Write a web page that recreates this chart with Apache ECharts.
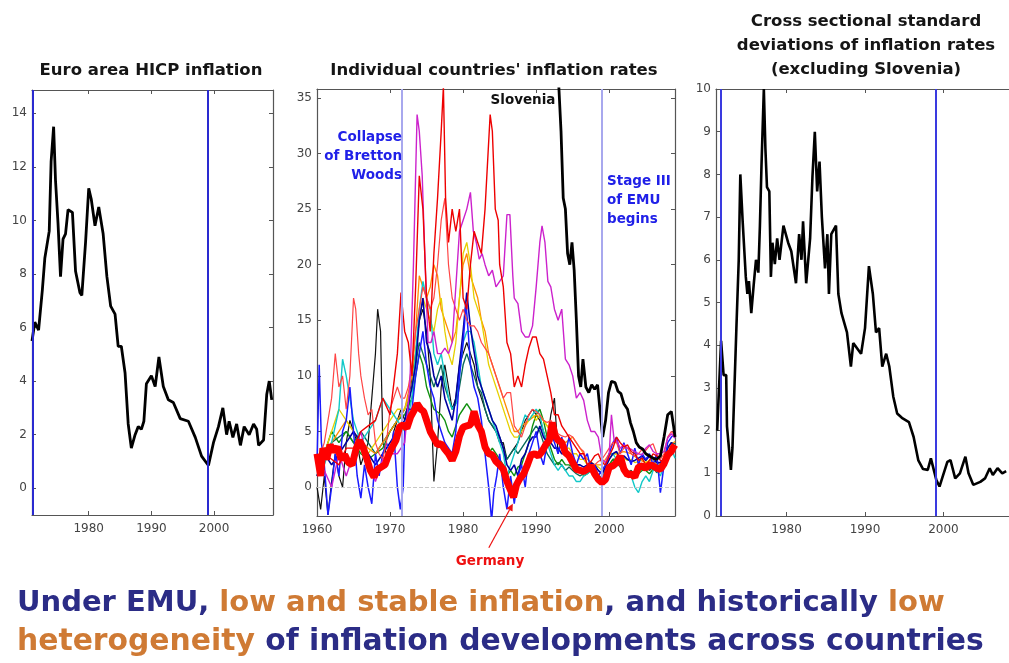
<!DOCTYPE html>
<html><head><meta charset="utf-8">
<script src="https://cdn.jsdelivr.net/npm/echarts@6/dist/echarts.min.js"></script>
<style>html,body{margin:0;padding:0;background:#fff}#c{width:1009px;height:663px}</style>
</head><body><div id="c"></div>
<script>
// ---------- DATA ----------
const xTicksLeft = [1980, 1990, 2000];
const xTicksMid = [1960, 1970, 1980, 1990, 2000];
const xTicksRight = [1980, 1990, 2000];
const yTicksLeft = [0, 2, 4, 6, 8, 10, 12, 14];
const yTicksMid = [0, 5, 10, 15, 20, 25, 30, 35];
const yTicksRight = [0, 1, 2, 3, 4, 5, 6, 7, 8, 9, 10];
const eventYears = [1971.6, 1999.0];

const euroArea = [[1970.95,5.5],[1971.4,6.2],[1972.0,5.9],[1972.6,7.4],[1973.0,8.6],[1973.7,9.6],[1974.0,12.2],[1974.4,13.5],[1974.7,11.5],[1975.1,9.9],[1975.5,7.9],[1975.9,9.3],[1976.3,9.5],[1976.7,10.4],[1977.4,10.3],[1977.9,8.1],[1978.6,7.3],[1978.9,7.2],[1979.5,9.2],[1980.0,11.2],[1980.4,10.8],[1981.0,9.8],[1981.6,10.5],[1982.3,9.5],[1982.9,7.9],[1983.5,6.8],[1984.2,6.5],[1984.7,5.3],[1985.2,5.3],[1985.8,4.3],[1986.3,2.4],[1986.8,1.5],[1987.4,2.0],[1987.9,2.3],[1988.4,2.2],[1988.8,2.5],[1989.2,3.9],[1990.0,4.2],[1990.6,3.8],[1991.2,4.9],[1991.9,3.8],[1992.7,3.3],[1993.5,3.2],[1994.6,2.6],[1995.9,2.5],[1997.0,1.9],[1998.0,1.2],[1999.1,0.85],[1999.9,1.7],[2000.7,2.3],[2001.4,3.0],[2002.0,2.0],[2002.4,2.5],[2003.0,1.9],[2003.6,2.4],[2004.2,1.6],[2004.8,2.3],[2005.6,2.0],[2006.3,2.4],[2006.8,2.2],[2007.1,1.6],[2007.9,1.8],[2008.4,3.5],[2008.8,4.0],[2009.2,3.3]];

const germany = [[1960,3.0],[1960.5,1.0],[1960.8,3.5],[1961.3,2.5],[1961.8,3.8],[1962.3,3.2],[1962.8,3.6],[1963.3,2.5],[1963.8,2.9],[1964.3,2.2],[1964.8,2.0],[1965.3,3.3],[1965.8,4.2],[1966.3,3.6],[1966.8,2.6],[1967.3,1.5],[1967.8,0.9],[1968.3,1.6],[1968.8,1.8],[1969.3,2.0],[1969.8,2.9],[1970.3,3.6],[1970.8,4.2],[1971.3,5.4],[1971.8,5.6],[1972.3,5.3],[1972.8,6.3],[1973.3,6.9],[1973.7,7.5],[1974.2,7.0],[1974.6,6.8],[1975.0,6.0],[1975.5,5.0],[1976.0,4.4],[1976.5,3.8],[1977.0,3.9],[1977.5,3.4],[1978.0,3.0],[1978.5,2.4],[1979.0,3.2],[1979.5,4.6],[1980.0,5.4],[1980.5,5.5],[1981.0,5.6],[1981.5,6.8],[1982.0,5.6],[1982.5,5.0],[1983.0,3.6],[1983.5,3.0],[1984.0,2.9],[1984.5,2.3],[1985.0,2.0],[1985.5,1.6],[1986.0,0.5],[1986.5,-0.3],[1986.9,-0.9],[1987.3,0.2],[1987.8,0.8],[1988.3,1.2],[1988.8,2.0],[1989.3,2.9],[1989.8,3.0],[1990.3,2.8],[1990.8,3.2],[1991.3,3.8],[1991.8,4.2],[1992.2,5.8],[1992.6,4.6],[1993.0,4.2],[1993.5,4.0],[1994.0,3.1],[1994.5,2.8],[1995.0,2.2],[1995.5,1.6],[1996.0,1.5],[1996.5,1.4],[1997.0,1.6],[1997.5,1.9],[1998.0,1.2],[1998.5,0.7],[1999.0,0.4],[1999.5,0.7],[2000.0,1.8],[2000.5,1.9],[2001.0,2.2],[2001.5,2.8],[2002.0,1.6],[2002.5,1.1],[2003.0,1.2],[2003.5,0.9],[2004.0,1.8],[2004.5,1.9],[2005.0,1.7],[2005.5,2.0],[2006.0,1.9],[2006.5,1.7],[2007.0,1.6],[2007.5,2.1],[2008.0,2.9],[2008.5,3.2],[2008.8,3.6],[2009.0,3.8]];

const portugal = [[1960,2],[1961,3],[1962,2.5],[1963,2],[1964,3.5],[1965,3.5],[1966,5],[1967,5.5],[1968,6],[1969,8],[1970,6.5],[1971,12],[1971.5,17.5],[1972,14],[1972.5,13],[1973,10],[1973.5,18],[1974,28],[1974.5,25],[1975,17],[1975.5,14],[1976,21],[1976.5,26],[1977,32],[1977.3,36],[1977.6,26],[1978,22],[1978.5,25],[1979,23],[1979.5,25],[1980,17],[1980.5,16],[1981,20],[1981.5,23],[1982,22],[1982.5,21],[1983,25],[1983.7,33.5],[1984,32],[1984.4,25],[1984.8,24],[1985,20],[1985.5,18],[1986,13],[1986.5,12],[1987,9],[1987.5,10],[1988,9],[1988.5,11],[1989,12.5],[1989.5,13.5],[1990,13.5],[1990.5,12],[1991,11.5],[1991.5,10],[1992,8.5],[1992.5,6.5],[1993,6.5],[1993.5,5.5],[1994,5],[1994.5,4.5],[1995,4],[1995.5,3.5],[1996,3],[1996.5,3],[1997,2],[1997.5,2.3],[1998,2.8],[1998.5,3],[1999,2.2],[1999.5,2],[2000,2.8],[2000.5,3.5],[2001,4.5],[2001.5,4],[2002,3.6],[2002.5,3.8],[2003,3.2],[2003.5,3],[2004,2.4],[2004.5,2.6],[2005,2],[2005.5,2.4],[2006,3],[2006.5,2.8],[2007,2.4],[2007.5,2.2],[2008,3],[2008.5,3.2],[2009,3.4]];

const spain = [[1960,2],[1961,4],[1962,8],[1962.5,12],[1963,9],[1963.5,10],[1964,7],[1964.5,10],[1965,17],[1965.3,16],[1965.7,12],[1966,10],[1966.5,8],[1967,6.5],[1967.5,7],[1968,4],[1968.5,3],[1969,2.5],[1969.5,4],[1970,7],[1970.5,8],[1971,9],[1971.5,8],[1972,8],[1972.5,9],[1973,11],[1973.5,14],[1974,16],[1974.5,18],[1975,17],[1975.5,16],[1976,17],[1976.5,20],[1977,24],[1977.5,26],[1978,20],[1978.5,17],[1979,16],[1979.5,15],[1980,16],[1980.5,15],[1981,14.5],[1981.5,14.5],[1982,14],[1982.5,13],[1983,12.5],[1983.5,12],[1984,11],[1984.5,10],[1985,9],[1985.5,8],[1986,8.5],[1986.5,8.5],[1987,5.5],[1987.5,5],[1988,4.5],[1988.5,5.5],[1989,6.5],[1989.5,7],[1990,6.8],[1990.5,6.5],[1991,6],[1991.5,5.8],[1992,6],[1992.5,5.5],[1993,4.8],[1993.5,4.6],[1994,4.5],[1994.5,4.7],[1995,4.5],[1995.5,4],[1996,3.5],[1996.5,3.2],[1997,2],[1997.5,2],[1998,2],[1998.5,2.3],[1999,2.5],[1999.5,3],[2000,3.5],[2000.5,4],[2001,4],[2001.5,3],[2002,3.5],[2002.5,3.5],[2003,3],[2003.5,2.8],[2004,3],[2004.5,3.4],[2005,3.3],[2005.5,3.7],[2006,3.9],[2006.5,3],[2007,2.5],[2007.5,3],[2008,4.5],[2008.5,5],[2009,4.6]];

const greece = [[1960,1],[1961,1.5],[1962,0],[1963,3],[1964,1],[1965,3],[1966,5],[1967,2],[1968,0.5],[1969,2.5],[1970,3],[1971,3],[1972,4],[1972.7,9],[1973.2,20],[1973.7,33.5],[1974,32],[1974.4,28],[1974.8,20],[1975.2,13],[1975.6,13],[1976,14],[1976.5,12],[1977,12],[1977.5,12.5],[1978,12],[1978.5,13],[1979,18],[1979.5,23],[1980,24],[1980.5,25],[1981,26.5],[1981.4,23],[1981.8,22],[1982.2,20.5],[1982.6,21],[1983,20],[1983.5,19],[1984,19.5],[1984.5,18],[1985,18.5],[1985.5,19],[1986,24.5],[1986.4,24.5],[1986.8,19],[1987,17],[1987.5,16.5],[1988,14],[1988.5,13.5],[1989,13.5],[1989.5,14.5],[1990,18],[1990.5,22],[1990.8,23.5],[1991.2,22],[1991.6,18.5],[1992,18],[1992.5,16],[1993,15],[1993.5,16],[1994,11.5],[1994.5,11],[1995,10],[1995.5,8],[1996,8.5],[1996.5,7.8],[1997,6],[1997.5,5],[1998,5],[1998.5,4.5],[1999,2.5],[1999.5,2.2],[2000,3],[2000.3,6.5],[2000.7,4],[2001,4.2],[2001.5,3.5],[2002,3.8],[2002.5,3.5],[2003,3.4],[2003.5,3.2],[2004,3],[2004.5,2.9],[2005,3.5],[2005.5,3.8],[2006,3.2],[2006.5,3],[2007,3],[2007.5,3.2],[2008,4.4],[2008.5,4.8],[2009,4.4]];

const slovenia = [[1993.1,36],[1993.4,32],[1993.7,26],[1994.0,25],[1994.3,21],[1994.6,20],[1994.9,22],[1995.2,19.5],[1995.5,15],[1995.8,10],[1996.1,9],[1996.4,11.5],[1996.8,9],[1997.2,8.5],[1997.6,9.2],[1998.0,8.8],[1998.4,9.2],[1998.8,6.5],[1999.1,4.5],[1999.5,6],[1999.9,8.5],[2000.3,9.5],[2000.8,9.4],[2001.2,8.6],[2001.6,8.4],[2002.0,7.5],[2002.5,7],[2002.9,5.8],[2003.3,5],[2003.7,4],[2004.1,3.6],[2004.6,3.4],[2005.0,3],[2005.5,2.8],[2006.0,2.6],[2006.5,2.5],[2007.0,2.8],[2007.5,4.5],[2008.0,6.5],[2008.5,6.8],[2008.8,5.5],[2009,4.5]];

const finland = [[1960,0],[1960.5,-2],[1961,1],[1961.5,-2.5],[1962,0.5],[1962.5,3],[1963,1],[1963.5,0],[1964,4],[1964.5,6],[1965,5],[1965.5,4],[1966,2],[1966.5,3],[1967,4],[1967.5,8],[1968,12],[1968.3,16],[1968.7,14],[1969,4],[1969.5,3],[1970,3],[1970.5,5],[1971,6],[1971.5,7],[1972,6],[1972.5,7],[1973,10],[1973.5,12],[1974,15],[1974.5,16],[1975,14],[1975.5,10],[1976,0.5],[1976.5,4],[1977,9],[1977.5,11],[1978,9],[1978.5,7],[1979,8],[1979.5,11],[1980,12],[1980.5,13],[1981,12],[1981.5,11],[1982,9],[1982.5,8],[1983,7],[1983.5,6],[1984,5.5],[1984.5,5],[1985,4],[1985.5,4],[1986,2.5],[1986.5,3],[1987,3.5],[1987.5,4],[1988,5],[1988.5,6],[1989,6.5],[1989.5,7],[1990,6.5],[1990.5,6],[1991,5],[1991.5,4],[1992,6.5],[1992.5,8],[1993,3]];

const belgium = [[1960,2],[1960.3,11],[1960.6,4],[1961,2],[1961.5,-2.5],[1962,0],[1962.5,3],[1963,1],[1963.5,5],[1964,6],[1964.5,9],[1965,5],[1965.5,1],[1966,-1],[1966.5,2],[1967,0],[1967.5,-1.5],[1968,3],[1968.5,1],[1969,3],[1969.5,4],[1970,3],[1970.5,5],[1971,0],[1971.4,-2],[1971.8,0],[1972,5],[1972.5,7],[1973,7],[1973.5,10],[1974,12],[1974.5,14],[1975,11],[1975.5,9],[1976,8],[1976.5,6],[1977,5],[1977.5,4],[1978,3.5],[1978.5,3],[1979,5],[1979.5,10],[1980,13],[1980.4,16.5],[1980.8,13],[1981,11],[1981.5,9],[1982,8],[1982.5,6],[1983,3],[1983.5,0],[1983.9,-3],[1984.2,-0.5],[1984.6,1],[1985,3],[1985.5,0],[1986,-2],[1986.5,1],[1987,-1.5],[1987.5,1],[1988,2],[1988.5,0],[1989,3],[1989.5,4],[1990,5],[1990.5,3],[1991,2],[1991.5,4],[1992,5],[1992.5,4],[1993,3],[1993.5,4.5],[1994,3],[1994.5,4.5],[1995,3],[1995.5,2],[1996,3],[1996.5,2.5],[1997,3],[1997.5,1.5],[1998,2],[1998.5,1],[1999,1.5],[1999.5,2],[2000,3],[2000.5,4],[2001,4.5],[2001.5,3],[2002,4],[2002.5,3],[2003,2],[2003.5,3.5],[2004,2],[2004.5,3],[2005,2.5],[2005.5,3],[2006,2],[2006.5,3],[2007,-0.5],[2007.5,2],[2008,4],[2008.5,4.5],[2009,4.8]];

const france = [[1960,1],[1961,3],[1962,2],[1963,3],[1964,4],[1965,5],[1966,4],[1967,3],[1968,2],[1969,3],[1970,4],[1971,5],[1972,6],[1973,9],[1973.5,11],[1974,15],[1974.5,17],[1975,13],[1975.5,12],[1976,10],[1976.5,9],[1977,10],[1977.5,8],[1978,7],[1978.5,6],[1979,8],[1979.5,11],[1980,14],[1980.5,17.5],[1980.9,15],[1981.3,13],[1981.8,11],[1982,10],[1982.5,9],[1983,8],[1983.5,7],[1984,6],[1984.5,5.5],[1985,4.5],[1985.5,3.5],[1986,2],[1986.5,1.5],[1987,2],[1987.5,1],[1988,2.5],[1988.5,3],[1989,4],[1989.5,4.5],[1990,4.5],[1990.5,5.5],[1991,4.5],[1991.5,4],[1992,4],[1992.5,3.5],[1993,3.5],[1993.5,3],[1994,3],[1994.5,2.5],[1995,2.5],[1995.5,2],[1996,2],[1996.5,1.8],[1997,2],[1997.5,2.2],[1998,2],[1998.5,1.5],[1999,1.2],[1999.5,1.8],[2000,2.5],[2000.5,3],[2001,3.2],[2001.5,2.5],[2002,2.8],[2002.5,2.5],[2003,2.3],[2003.5,2.4],[2004,2.6],[2004.5,2.8],[2005,2.4],[2005.5,2.8],[2006,2.6],[2006.5,2.2],[2007,2.2],[2007.5,2.6],[2008,3.5],[2008.5,4],[2009,3.6]];

const netherlands = [[1960,3],[1961,2],[1962,4],[1963,7],[1963.5,11.5],[1964,10],[1964.5,8],[1965,6],[1966,4],[1967,5],[1968,6],[1969,8],[1970,7],[1971,6],[1972,5],[1973,8],[1973.5,12],[1974,16],[1974.5,18.5],[1975,17],[1975.5,16],[1976,12],[1976.5,11],[1977,12],[1977.5,10],[1978,8],[1978.5,7],[1979,7.5],[1979.5,10],[1980,13],[1980.5,14],[1981,14],[1981.5,13],[1982,11],[1982.5,9],[1983,8],[1983.5,7],[1984,6],[1984.5,5],[1985,4],[1985.5,3],[1986,1],[1986.5,2],[1987,3],[1987.5,4],[1988,5.5],[1988.5,6.5],[1989,6],[1989.5,6.5],[1990,7],[1990.5,6.5],[1991,5],[1991.5,4],[1992,3],[1992.5,2],[1993,1.5],[1993.5,2],[1994,1.5],[1994.5,1],[1995,1],[1995.5,0.5],[1996,0.5],[1996.5,1],[1997,1.2],[1997.5,1.5],[1998,1.5],[1998.5,1],[1999,0.8],[1999.5,2],[2000,3],[2000.5,3],[2001,2.5],[2001.5,2],[2002,1.5],[2002.5,1],[2003,1],[2003.5,0],[2004,-0.5],[2004.5,0.5],[2005,1],[2005.5,0.5],[2006,1.5],[2006.5,1.5],[2007,1],[2007.5,2],[2008,3],[2008.5,3.5],[2009,2.6]];

const austria = [[1960,1],[1961,3],[1962,5],[1963,4],[1964,5],[1965,4],[1966,3],[1967,2.5],[1968,3],[1969,3.5],[1970,5],[1971,6],[1972,6.5],[1973,8],[1973.5,10],[1974,12],[1974.5,11],[1975,9],[1975.5,8],[1976,7],[1977,6.5],[1977.5,6],[1978,5],[1978.5,4.5],[1979,5.5],[1979.5,6.5],[1980,7],[1980.5,7.5],[1981,7],[1981.5,6.5],[1982,6],[1982.5,5.5],[1983,4],[1983.5,3],[1984,3.5],[1984.5,3],[1985,2.5],[1985.5,2],[1986,1],[1986.5,1.5],[1987,1],[1987.5,1.8],[1988,2],[1988.5,3],[1989,4],[1989.5,5.5],[1990,6.5],[1990.5,7],[1991,6],[1991.5,4.5],[1992,3.5],[1992.5,2.5],[1993,2],[1993.5,2.5],[1994,2],[1994.5,2],[1995,1.8],[1995.5,1.5],[1996,1.5],[1996.5,1],[1997,1.2],[1997.5,1.5],[1998,1],[1998.5,0.8],[1999,1],[1999.5,1.5],[2000,2],[2000.5,2.5],[2001,2.5],[2001.5,2],[2002,1.8],[2002.5,1.5],[2003,1.2],[2003.5,1],[2004,1.2],[2004.5,1.5],[2005,1.5],[2005.5,1.2],[2006,1.6],[2006.5,1.5],[2007,1.4],[2007.5,2],[2008,3],[2008.5,3.5],[2009,3.3]];

const ireland = [[1960,2],[1961,3],[1962,4],[1963,4.5],[1964,5],[1965,4],[1966,5],[1967,4],[1968,3],[1969,4],[1970,5],[1971,6],[1972,7],[1973,9],[1973.5,11],[1974,13],[1974.5,12],[1975,11],[1975.5,10],[1976,9],[1976.5,10],[1977,11],[1977.5,9],[1978,8],[1978.5,7],[1979,7.5],[1979.5,9],[1980,11],[1980.5,12],[1981,11],[1981.5,10],[1982,9],[1982.5,8.5],[1983,7],[1983.5,6],[1984,5.5],[1984.5,5],[1985,4.5],[1985.5,3.5],[1986,2.5],[1986.5,3],[1987,3.5],[1987.5,3],[1988,3.5],[1988.5,4],[1989,4.5],[1989.5,5],[1990,5.5],[1990.5,5],[1991,4],[1991.5,3],[1992,2.5],[1992.5,2],[1993,2.2],[1993.5,2],[1994,1.5],[1994.5,1.8],[1995,1.5],[1995.5,1.2],[1996,1],[1996.5,1.2],[1997,1.5],[1997.5,1.4],[1998,1],[1998.5,0.5],[1999,1],[1999.5,1.5],[2000,2],[2000.5,2.5],[2001,2.2],[2001.5,1.8],[2002,1.5],[2002.5,1.3],[2003,1.5],[2003.5,1],[2004,1.5],[2004.5,1.8],[2005,2],[2005.5,1.5],[2006,1.8],[2006.5,1.3],[2007,1.5],[2007.5,2.2],[2008,3.5],[2008.5,4],[2009,3.9]];

const italy = [[1960,2],[1961,3],[1962,5],[1963,7],[1964,6],[1965,5],[1966,4],[1967,3],[1968,4],[1969,5],[1970,6],[1971,7],[1972,7],[1973,9],[1973.5,12],[1974,15],[1974.5,17],[1975,16],[1975.5,15],[1976,14],[1976.5,16],[1977,17],[1977.5,14],[1978,12],[1978.5,11],[1979,13],[1979.5,17],[1980,21],[1980.5,22],[1981,20],[1981.5,17],[1982,16],[1982.5,15],[1983,13],[1983.5,11],[1984,10],[1984.5,9],[1985,8],[1985.5,7],[1986,6],[1986.5,5],[1987,4.5],[1987.5,4.5],[1988,5],[1988.5,5.5],[1989,6],[1989.5,6.5],[1990,6],[1990.5,6.5],[1991,6],[1991.5,5.5],[1992,5],[1992.5,4.5],[1993,4.5],[1993.5,4],[1994,3.5],[1994.5,3.5],[1995,3],[1995.5,3],[1996,2.5],[1996.5,2.5],[1997,2],[1997.5,2.2],[1998,2],[1998.5,1.8],[1999,1.5],[1999.5,2],[2000,2.5],[2000.5,3],[2001,3],[2001.5,2.5],[2002,2.6],[2002.5,2.4],[2003,2.5],[2003.5,2.2],[2004,2.3],[2004.5,2.5],[2005,2.2],[2005.5,2.4],[2006,2.5],[2006.5,2],[2007,2],[2007.5,2.5],[2008,3.5],[2008.5,3.7],[2009,3.5]];

const luxembourg = [[1960,2],[1962,4],[1964,6],[1966,4],[1968,3],[1970,5],[1971,6],[1972,7],[1973,10],[1973.5,14],[1974,19],[1974.5,18],[1975,17],[1975.5,18],[1976,20],[1976.5,19],[1977,16],[1977.5,15],[1978,14],[1978.5,13],[1979,14],[1979.5,17],[1980,20],[1980.5,21],[1981,19],[1981.5,18],[1982,17],[1982.5,15],[1983,14],[1983.5,12],[1984,11],[1984.5,10],[1985,9],[1985.5,8],[1986,7],[1986.5,6],[1987,5],[1987.5,5],[1988,5.5],[1989,6],[1990,6.5],[1991,6],[1992,5],[1993,4.5],[1994,4],[1995,4.5],[1996,3.5],[1997,2.5],[1998,2],[1999,2],[2000,3],[2001,3],[2002,3.2],[2003,3],[2004,2.5],[2005,2.2],[2006,2.5],[2007,2],[2008,3.6],[2009,4.1]];

const crossSd = [[1971.15,2.0],[1971.65,4.1],[1971.97,3.3],[1972.3,3.3],[1972.4,2.1],[1972.9,1.08],[1973.1,1.6],[1973.3,1.6],[1973.6,4.4],[1973.9,6.0],[1974.1,8.0],[1974.4,6.9],[1974.6,6.9],[1974.8,5.6],[1975.0,5.2],[1975.2,5.5],[1975.5,4.75],[1975.8,5.4],[1976.1,6.0],[1976.4,5.7],[1976.6,6.8],[1976.8,8.2],[1977.1,10.0],[1977.3,8.6],[1977.5,7.7],[1977.8,7.6],[1978.0,5.6],[1978.2,6.4],[1978.5,5.9],[1978.8,6.5],[1979.1,6.0],[1979.6,6.8],[1980.2,6.4],[1980.6,6.2],[1981.2,5.45],[1981.6,6.6],[1981.9,6.0],[1982.1,6.9],[1982.5,5.45],[1983.0,6.5],[1983.3,7.95],[1983.6,9.0],[1983.9,7.6],[1984.2,8.3],[1984.5,7.0],[1984.9,5.8],[1985.2,6.6],[1985.4,5.2],[1985.7,6.6],[1986.3,6.8],[1986.6,5.2],[1987.0,4.75],[1987.7,4.3],[1988.2,3.5],[1988.5,4.05],[1989.1,3.9],[1989.5,3.8],[1990.0,4.4],[1990.5,5.85],[1991.0,5.2],[1991.4,4.3],[1991.8,4.4],[1992.2,3.5],[1992.7,3.8],[1993.1,3.5],[1993.6,2.8],[1994.1,2.4],[1994.7,2.3],[1995.6,2.2],[1996.2,1.85],[1996.8,1.3],[1997.4,1.1],[1998.0,1.08],[1998.4,1.35],[1999.1,0.84],[1999.5,0.69],[1999.9,0.92],[2000.5,1.27],[2000.9,1.31],[2001.5,0.88],[2002.1,1.0],[2002.8,1.39],[2003.2,1.0],[2003.8,0.73],[2004.7,0.8],[2005.3,0.88],[2005.9,1.12],[2006.3,0.96],[2006.9,1.12],[2007.5,1.0],[2008.0,1.05]];

// ---------- CHART ----------
const chart = echarts.init(document.getElementById('c'), null, {renderer: 'canvas'});
const FONT = '"DejaVu Sans", "Liberation Sans", Arial, sans-serif';
const BIGFONT = '"DejaVu Sans", Lato, sans-serif';
const frame = '#555';
const plainNum = v => String(v);

function xAxisPair(grid, min, max, ticks) {
  const base = {type: 'value', gridIndex: grid, min: min, max: max, splitLine: {show: false},
    axisLine: {show: true, onZero: false, lineStyle: {color: frame, width: 1.2}}};
  return [
    Object.assign({}, base, {position: 'bottom',
      axisTick: {show: true, inside: true, length: 4, customValues: ticks, lineStyle: {color: frame}},
      axisLabel: {show: true, customValues: ticks, formatter: plainNum, color: '#444', fontSize: 12, fontFamily: FONT, margin: 8}}),
    Object.assign({}, base, {position: 'top',
      axisTick: {show: true, inside: true, length: 4, customValues: ticks, lineStyle: {color: frame}},
      axisLabel: {show: false}})
  ];
}
function yAxisPair(grid, min, max, ticks, showRight) {
  const base = {type: 'value', gridIndex: grid, min: min, max: max, splitLine: {show: false},
    axisLine: {show: true, onZero: false, lineStyle: {color: frame, width: 1.2}}};
  return [
    Object.assign({}, base, {position: 'left',
      axisTick: {show: true, inside: true, length: 4, customValues: ticks, lineStyle: {color: frame}},
      axisLabel: {show: true, customValues: ticks, formatter: plainNum, color: '#444', fontSize: 12, fontFamily: FONT, margin: 5}}),
    Object.assign({}, base, {position: 'right',
      axisLine: {show: showRight, onZero: false, lineStyle: {color: frame, width: 1.2}},
      axisTick: {show: showRight, inside: true, length: 4, customValues: ticks, lineStyle: {color: frame}},
      axisLabel: {show: false}})
  ];
}

const xAxes = [].concat(
  xAxisPair(0, 1970.95, 2009.4, xTicksLeft),
  xAxisPair(1, 1960, 2009, xTicksMid),
  xAxisPair(2, 1971.0, 2008.36, xTicksRight)
);
const yAxes = [].concat(
  yAxisPair(0, -1, 14.87, yTicksLeft, true),
  yAxisPair(1, -2.6, 35.8, yTicksMid, true),
  yAxisPair(2, 0, 10, yTicksRight, false)
);

function vlines(years, color, width) {
  return {silent: true, symbol: 'none', label: {show: false}, animation: false,
    lineStyle: {color: color, width: width, type: 'solid'},
    data: years.map(y => ({xAxis: y}))};
}

function line(name, data, xi, yi, color, width, z, extra) {
  return Object.assign({type: 'line', name: name, data: data, xAxisIndex: xi, yAxisIndex: yi,
    showSymbol: false, symbol: 'none', animation: false, z: z,
    lineStyle: {color: color, width: width}, itemStyle: {color: color}}, extra || {});
}

const midSeries = [
  ['Finland', finland, '#111111', 1.2],
  ['Ireland', ireland, '#0a6a5a', 1.4],
  ['Austria', austria, '#109010', 1.4],
  ['Luxembourg', luxembourg, '#ff8c00', 1.3],
  ['Italy', italy, '#e6d000', 1.3],
  ['Netherlands', netherlands, '#10c8c8', 1.4],
  ['France', france, '#0000a0', 1.6],
  ['Belgium', belgium, '#1a1aff', 1.5],
  ['Spain', spain, '#ff4545', 1.2],
  ['Greece', greece, '#cc22cc', 1.4],
  ['Portugal', portugal, '#ee0000', 1.4]
];

const series = [];
series.push(line('Euro area', euroArea, 0, 0, '#000', 2.8, 3,
  {markLine: vlines([1971.0, eventYears[1]], '#2a2ad0', 2)}));
midSeries.forEach((s, i) => {
  const extra = {};
  if (i === 0) {
    extra.markLine = {silent: true, symbol: 'none', label: {show: false}, animation: false,
      data: [
        {yAxis: 0, lineStyle: {color: '#c8c8c8', width: 1, type: 'dashed'}},
        {xAxis: eventYears[0], lineStyle: {color: '#a8a8ee', width: 2, type: 'solid'}},
        {xAxis: eventYears[1], lineStyle: {color: '#a8a8ee', width: 2, type: 'solid'}}
      ]};
  }
  series.push(line(s[0], s[1], 2, 2, s[2], s[3], 2, extra));
});
series.push(line('Slovenia', slovenia, 2, 2, '#000', 2.8, 4));
series.push(line('Germany', germany, 2, 2, '#ff0000', 7, 5));
series.push(line('Cross-sectional s.d.', crossSd, 4, 4, '#000', 2.6, 3,
  {markLine: vlines(eventYears, '#3a3ae0', 2)}));

const titleStyle = {fontFamily: FONT, fontWeight: 'bold', fontSize: 16.5, fill: '#151515', textAlign: 'center', textVerticalAlign: 'middle'};
const annBlue = {fontFamily: FONT, fontWeight: 'bold', fontSize: 13.5, fill: '#2020e8', lineHeight: 19};
const NAVY = '#2b2c86', ORANGE = '#cf7a34';
function richFor(size) {
  return {
    n: {fontFamily: BIGFONT, fontWeight: 'bold', fontSize: size, fill: NAVY},
    o: {fontFamily: BIGFONT, fontWeight: 'bold', fontSize: size, fill: ORANGE}
  };
}

chart.setOption({
  backgroundColor: '#fff',
  grid: [
    {left: 32, top: 90, width: 241, height: 425},
    {left: 317, top: 89, width: 358, height: 427},
    {left: 716, top: 89, width: 300, height: 427}
  ],
  xAxis: xAxes,
  yAxis: yAxes,
  series: series,
  graphic: [
    {type: 'text', x: 151, y: 71, style: Object.assign({text: 'Euro area HICP inflation'}, titleStyle)},
    {type: 'text', x: 494, y: 71, style: Object.assign({text: "Individual countries' inflation rates"}, titleStyle)},
    {type: 'text', x: 866, y: 22, style: Object.assign({text: 'Cross sectional standard'}, titleStyle)},
    {type: 'text', x: 866, y: 46, style: Object.assign({text: 'deviations of inflation rates'}, titleStyle)},
    {type: 'text', x: 866, y: 70, style: Object.assign({text: '(excluding Slovenia)'}, titleStyle)},
    {type: 'text', x: 402, y: 128, z: 50, style: Object.assign({text: 'Collapse\nof Bretton\nWoods', textAlign: 'right'}, annBlue)},
    {type: 'text', x: 607, y: 172, z: 50, style: Object.assign({text: 'Stage III\nof EMU\nbegins', textAlign: 'left'}, annBlue)},
    {type: 'text', x: 523, y: 100, z: 50, style: {text: 'Slovenia', fontFamily: FONT, fontWeight: 'bold', fontSize: 13.5, fill: '#111', textAlign: 'center', textVerticalAlign: 'middle'}},
    {type: 'text', x: 490, y: 561, z: 50, style: {text: 'Germany', fontFamily: FONT, fontWeight: 'bold', fontSize: 13.5, fill: '#ee1111', textAlign: 'center', textVerticalAlign: 'middle'}},
    {type: 'text', x: 17, y: 603, z: 50, style: {
      text: '{n|Under EMU,}{o| low and stable inflation}{n|, and historically }{o|low}',
      textVerticalAlign: 'middle', rich: richFor(29)}},
    {type: 'text', x: 17, y: 642, z: 50, style: {
      text: '{o|heterogeneity}{n| of inflation developments across countries}',
      textVerticalAlign: 'middle', rich: richFor(29.8)}}
  ]
});

// Germany arrow anchored at the data trough
const tip = chart.convertToPixel({xAxisIndex: 2, yAxisIndex: 2}, [1986.8, -1.5]);
const tail = [tip[0] - 24, tip[1] + 44];
const ang = Math.atan2(tip[1] - tail[1], tip[0] - tail[0]);
const ah = 7, aw = 3.5;
const b = [tip[0] - ah * Math.cos(ang), tip[1] - ah * Math.sin(ang)];
const p1 = [b[0] + aw * Math.sin(ang), b[1] - aw * Math.cos(ang)];
const p2 = [b[0] - aw * Math.sin(ang), b[1] + aw * Math.cos(ang)];
chart.setOption({graphic: [
  {type: 'line', id: 'arrowShaft', z: 60, shape: {x1: tail[0], y1: tail[1], x2: b[0], y2: b[1]}, style: {stroke: '#ee1111', lineWidth: 1.2}},
  {type: 'polygon', id: 'arrowHead', z: 60, shape: {points: [tip, p1, p2]}, style: {fill: '#ee1111'}}
]});
</script></body></html>
